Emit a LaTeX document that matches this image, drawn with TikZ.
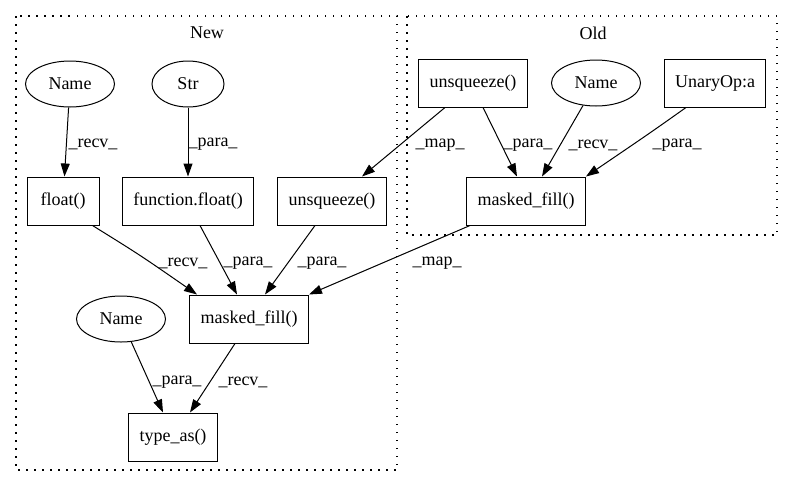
\documentclass[tikz,border=0pt]{standalone}
\usepackage{fontspec}
\setmainfont{Liberation Serif}
\usepackage{tikz}
\usetikzlibrary{arrows.meta, positioning, shapes.geometric}

\tikzset{
  fn/.style={draw, rectangle, line width=1pt, minimum width=72pt, minimum height=48pt, inner xsep=11pt},
  nm/.style={draw, ellipse, line width=1pt, minimum width=89pt, minimum height=46pt, inner sep=0pt},
  arr/.style={-{Triangle[length=13pt,width=9pt]}, line width=1pt},
  lbl/.style={inner sep=0pt},
  grp/.style={line width=1.2pt, dash pattern=on 1.5pt off 6.5pt}
}

\begin{document}
\begin{tikzpicture}[x=1pt,y=-1pt,on grid,font=\fontsize{18}{20}\selectfont]
\useasboundingbox (0,0) rectangle (792,488);
% clusters
\draw[grp] (16,16) rectangle (397,470);
\node[lbl] (newlbl) at (207,33) {New};
\draw[grp] (407,16) rectangle (777,235);
\node[lbl] (oldlbl) at (593,33) {Old};
% new
\node[nm] (name1) at (70,84) {Name};
\node[nm, minimum width=72pt] (str) at (188,84) {Str};
\node[fn] (float) at (63,201) {float()};
\node[fn] (ffloat) [below=117pt of str] {function.float()};
\node[fn] (unsq) at (332,201) {unsqueeze()};
\node[fn] (mfnew) at (249,319) {masked\_fill()};
\node[nm] (name2) [left=128pt of mfnew] {Name};
\node[fn] (typeas) at (173,437) {type\_as()};
% old
\node[fn] (unsqold) at (473,83) {unsqueeze()};
\node[nm] (name3) at (596,83) {Name};
\node[fn] (unary) at (715,83) {UnaryOp:a};
\node[fn] (mfold) at (526,201) {masked\_fill()};

\draw[arr] (name1) -- (float) node[lbl, at={(93,144)}] {\_recv\_};
\draw[arr] (str) -- (ffloat) node[lbl, at={(213,144)}] {\_para\_};
\draw[arr] ([xshift=-28pt]unsqold.south) -- ([xshift=30pt]unsq.north) node[lbl, at={(440,145)}] {\_map\_};
\draw[arr] ([xshift=10pt]unsqold.south) -- ([xshift=-9pt]mfold.north) node[lbl, at={(528,145)}] {\_para\_};
\draw[arr] (name3) -- ([xshift=16pt]mfold.north) node[lbl, at={(593,145)}] {\_recv\_};
\draw[arr] ([xshift=-29pt]unary.south) .. controls (650,133) .. (mfold.north east) node[lbl, at={(677,145)}] {\_para\_};
\draw[arr] ([xshift=-7pt]float.south east) .. controls (140,255) .. ([xshift=8pt]mfnew.north west) node[lbl, at={(183,263)}] {\_recv\_};
\draw[arr] ([xshift=12pt]ffloat.south) -- ([xshift=-12pt]mfnew.north) node[lbl, at={(248,263)}] {\_para\_};
\draw[arr] ([xshift=-17pt]unsq.south) -- ([xshift=16pt]mfnew.north) node[lbl, at={(322,263)}] {\_para\_};
\draw[arr] ([xshift=-56pt]mfold.south) -- (mfnew.north east) node[lbl, at={(437,263)}] {\_map\_};
\draw[arr] (name2) -- ([xshift=-10pt]typeas.north) node[lbl, at={(177,382)}] {\_para\_};
\draw[arr] ([xshift=-14pt]mfnew.south) -- ([xshift=17pt]typeas.north) node[lbl, at={(243,382)}] {\_recv\_};
\end{tikzpicture}
\end{document}
